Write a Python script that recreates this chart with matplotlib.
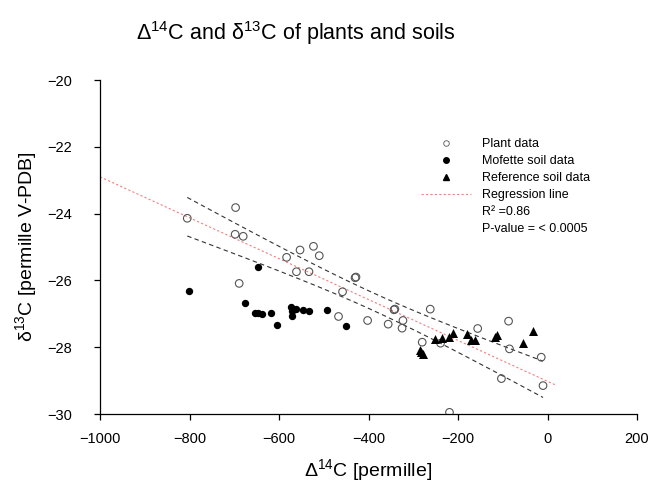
import numpy as np
import matplotlib
matplotlib.use("Agg")
import matplotlib.pyplot as plt
from matplotlib.lines import Line2D

plt.rcParams['font.family'] = ['Liberation Sans', 'DejaVu Sans']
plt.rcParams['mathtext.fontset'] = 'custom'
plt.rcParams['mathtext.rm'] = 'Liberation Sans'
plt.rcParams['mathtext.it'] = 'Liberation Sans:italic'
plt.rcParams['mathtext.bf'] = 'Liberation Sans:bold'

# plant data (open circles)
plant_d14c = [-805, -697, -698, -680, -689, -583, -553, -523, -510, -561, -533,
              -428, -430, -458, -467, -402, -341, -343, -356, -323, -325,
              -262, -280, -239, -156, -87, -85, -14, -103, -10, -219]
plant_d13c = [-24.14, -23.82, -24.62, -24.68, -26.09, -25.31, -25.09, -24.98, -25.26, -25.74, -25.74,
              -25.90, -25.92, -26.34, -27.08, -27.20, -26.86, -26.88, -27.31, -27.20, -27.43,
              -26.86, -27.85, -27.88, -27.44, -27.22, -28.05, -28.30, -28.94, -29.15, -29.95]

# mofette soil data (filled circles)
mofette_d14c = [-802, -648, -675, -654, -646, -639, -618, -605, -574, -572, -570,
                -561, -546, -533, -493, -450]
mofette_d13c = [-26.32, -25.59, -26.67, -26.97, -26.98, -27.01, -26.98, -27.34, -26.81, -26.93, -27.06,
                -26.87, -26.89, -26.91, -26.88, -27.38]

# reference soil data (triangles)
ref_d14c = [-284, -282, -278, -252, -235, -219, -211, -179, -172, -161, -117, -113, -55, -33]
ref_d13c = [-28.08, -28.15, -28.21, -27.76, -27.71, -27.68, -27.57, -27.60, -27.79, -27.78,
            -27.70, -27.64, -27.86, -27.51]

r2_text = "R² =0.86"
p_text = "P-value = < 0.0005"

# linear regression on plant data with 95% confidence band
x = np.array(plant_d14c, dtype=float)
y = np.array(plant_d13c, dtype=float)
n = len(x)
b, a = np.polyfit(x, y, 1)
resid = y - (a + b * x)
s = np.sqrt(np.sum(resid ** 2) / (n - 2))
sxx = np.sum((x - x.mean()) ** 2)
t95 = 2.045

fig = plt.figure(figsize=(6.51, 4.83), dpi=100)
ax = fig.add_axes([100 / 651, 1 - 414 / 483, 537 / 651, 334 / 483])

xr = np.linspace(-1000, 20, 100)
ax.plot(xr, a + b * xr, color='#f08080', lw=0.8, dashes=(2, 2), zorder=1)
xc = np.linspace(x.min(), x.max(), 100)
half = t95 * s * np.sqrt(1 / n + (xc - x.mean()) ** 2 / sxx)
ax.plot(xc, a + b * xc + half, color='#333333', lw=0.8, dashes=(4, 3), zorder=1)
ax.plot(xc, a + b * xc - half, color='#333333', lw=0.8, dashes=(4, 3), zorder=1)

ax.scatter(plant_d14c, plant_d13c, s=30, facecolors='none', edgecolors='#555555',
           linewidths=0.8, zorder=3)
ax.scatter(mofette_d14c, mofette_d13c, s=28, color='black', linewidths=0, zorder=3)
ax.scatter(ref_d14c, ref_d13c, s=42, marker='^', color='black', linewidths=0, zorder=3)

ax.set_xlim(-1000, 200)
ax.set_ylim(-30, -20)
ax.set_xticks(np.arange(-1000, 201, 200))
ax.set_yticks(np.arange(-30, -19, 2))
for side in ['top', 'right']:
    ax.spines[side].set_visible(False)
for side in ['left', 'bottom']:
    ax.spines[side].set_linewidth(0.9)
ax.tick_params(direction='out', length=4, width=0.9, labelsize=10.5)
ax.tick_params(axis='y', pad=16)
ax.tick_params(axis='x', pad=9)

ax.set_xlabel("Δ$^{14}$C [permille]", fontsize=14, labelpad=8)
ax.set_ylabel("δ$^{13}$C [permille V-PDB]", fontsize=14, labelpad=6)
fig.text(296 / 651, 1 - 40 / 483, "Δ$^{14}$C and δ$^{13}$C of plants and soils",
         ha='center', va='baseline', fontsize=15.5)

handles = [
    Line2D([], [], ls='none', marker='o', mfc='white', mec='#555555', ms=4, mew=0.6),
    Line2D([], [], ls='none', marker='o', color='black', ms=4),
    Line2D([], [], ls='none', marker='^', color='black', ms=5),
    Line2D([], [], color='#f08080', lw=0.8, dashes=(2, 2)),
    Line2D([], [], ls='none'),
    Line2D([], [], ls='none'),
]
labels = ["Plant data", "Mofette soil data", "Reference soil data", "Regression line",
          r2_text, p_text]
ax.legend(handles, labels, loc='upper left', bbox_to_anchor=((421 - 100) / 537, 1 - (138 - 80) / 334),
          frameon=False, fontsize=9, handlelength=4.0, handletextpad=0.9,
          labelspacing=0.4, borderpad=0, borderaxespad=0)

fig.savefig("out.png", dpi=100)
